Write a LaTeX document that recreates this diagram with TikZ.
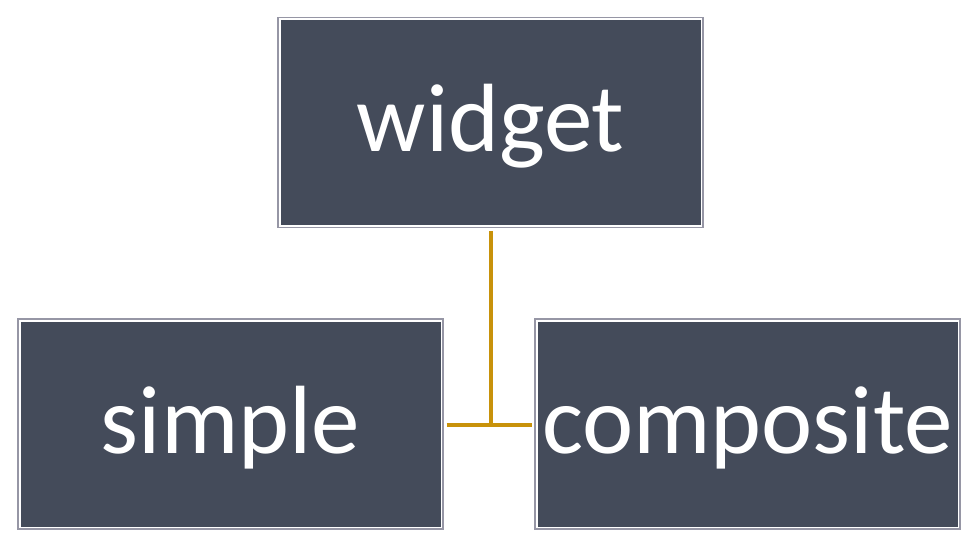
\documentclass[tikz,border=0pt]{standalone}
\usepackage{fontspec}
\setmainfont{Carlito}
\definecolor{boxfill}{RGB}{68,75,90}
\definecolor{boxedge}{RGB}{150,150,165}
\definecolor{linkgold}{RGB}{200,146,10}
\newcommand{\boxtext}[1]{\raisebox{-4pt}[\height][\depth]{#1}}
\begin{document}
\begin{tikzpicture}[x=1pt,y=-1pt,
  box/.style={fill=boxfill, draw=white, line width=2pt, minimum width=422pt, minimum height=207pt,
    inner sep=0pt, outer sep=0pt, text=white, font=\fontsize{97}{100}\selectfont},
  edge/.style={draw=boxedge, line width=1.2pt},
  link/.style={draw=linkgold, line width=4.5pt}]
\useasboundingbox (0,0) rectangle (975,540);
\node[box] (w) at (490.5,122.5) {\boxtext{widget}};
\node[box] (s) at (230.5,424) {\boxtext{simple}};
\node[box] (c) at (747.5,424) {\boxtext{composite}};
\foreach \n in {w,s,c}{
  \draw[edge] ([shift={(-1.5pt,1.5pt)}]\n.north west) rectangle ([shift={(1.5pt,-1.5pt)}]\n.south east);
}
\coordinate (j) at (491,425);
\draw[link] ([yshift=-5pt]w.south -| j) -- (j);
\draw[link] ([xshift=5pt]s.east |- j) -- ([xshift=-5pt]c.west |- j);
\end{tikzpicture}
\end{document}
